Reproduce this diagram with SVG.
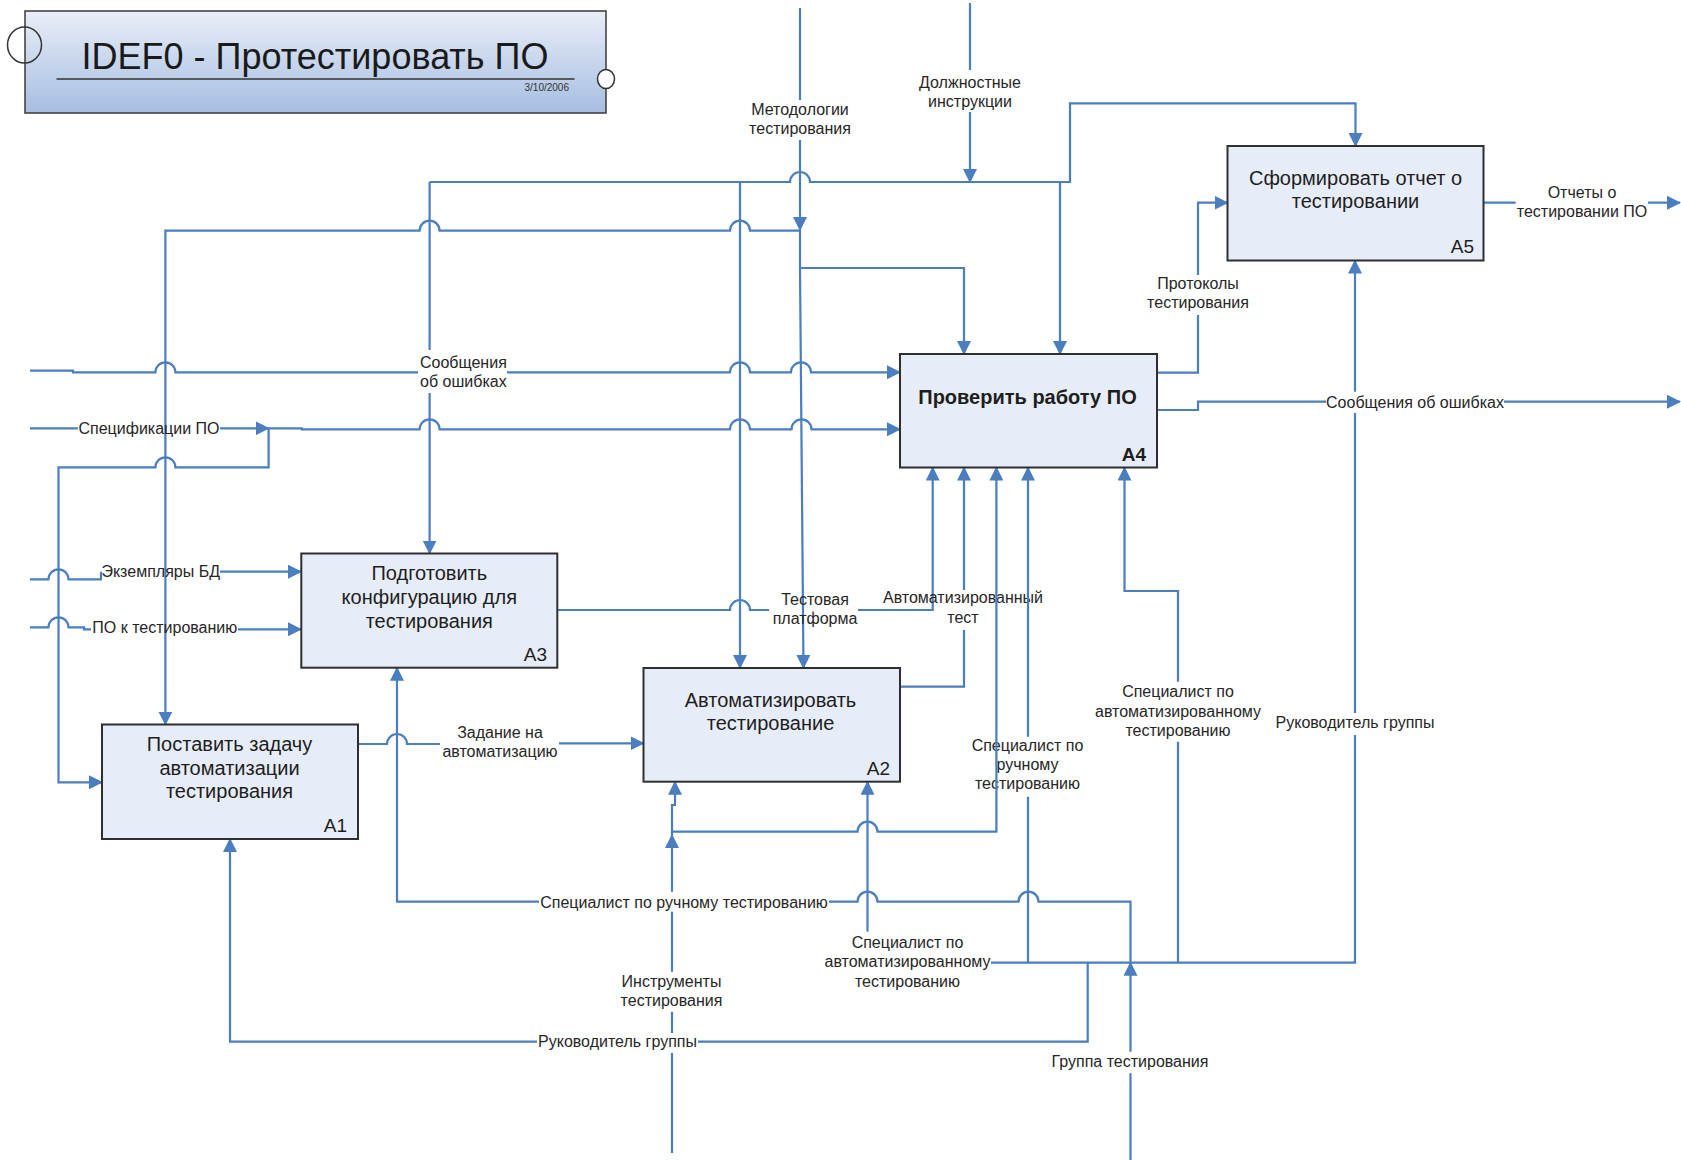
<svg xmlns="http://www.w3.org/2000/svg" width="1681" height="1160" viewBox="0 0 1681 1160">
<defs>
  <linearGradient id="titleFill" x1="0" y1="0" x2="0" y2="1">
    <stop offset="0" stop-color="#e9eef7"/>
    <stop offset="1" stop-color="#a6bee2"/>
  </linearGradient>
  <marker id="arrow" viewBox="0 0 14 14" refX="13" refY="7" markerWidth="14" markerHeight="14" markerUnits="userSpaceOnUse" orient="auto">
    <path d="M0,0 L14,7 L0,14 z" fill="#4a7ebf"/>
  </marker>
</defs>
<style>
  .box{fill:#e7edf8;stroke:#2f2f2f;stroke-width:2}
  .btxt{font-family:"Liberation Sans",Arial,sans-serif;font-size:20px;fill:#1e1e1e;text-anchor:middle}
  .bold{font-weight:bold}
  .num{font-family:"Liberation Sans",Arial,sans-serif;font-size:19px;fill:#1e1e1e;text-anchor:end}
  .wire{fill:none;stroke:#4a7ebf;stroke-width:2.2}
  .arr{marker-end:url(#arrow)}
  .lbl{font-family:"Liberation Sans",Arial,sans-serif;font-size:16px;fill:#262626;text-anchor:middle}
</style>
<rect width="1681" height="1160" fill="#ffffff"/>

<!-- title block -->
<g id="title">
  <rect x="25" y="11" width="581" height="102" fill="url(#titleFill)" stroke="#3a3a3a" stroke-width="1.5"/>
  <text x="315" y="69" font-family="Liberation Sans, Arial, sans-serif" font-size="36" fill="#1a1a1a" text-anchor="middle">IDEF0 - Протестировать ПО</text>
  <line x1="56.5" y1="79" x2="574.5" y2="79" stroke="#333" stroke-width="1.5"/>
  <text x="569" y="91" font-family="Liberation Sans, Arial, sans-serif" font-size="10" fill="#333" text-anchor="end">3/10/2006</text>
  <ellipse cx="24.5" cy="45" rx="17" ry="18" fill="none" stroke="#333" stroke-width="1.5"/>
  <ellipse cx="606" cy="79" rx="8.5" ry="9.5" fill="#fff" stroke="#333" stroke-width="1.5"/>
</g>

<!-- connectors -->
<g id="connectors">
  <g id="c-metodologii">
    <path class="wire arr" d="M800,8 V100 M800,140 V230"/>
    <path class="wire arr" d="M800,230 V268 H964 V354"/>
    <path class="wire arr" d="M800,268 L803.5,668"/>
    <path class="wire arr" d="M800,230.7 H750 A10,10 0 0 0 730,230.7 H439.6 A10,10 0 0 0 419.6,230.7 H165.4 V724.5"/>
    <text class="lbl" x="800" y="115">Методологии</text>
    <text class="lbl" x="800" y="134">тестирования</text>
  </g>
  <g id="c-instrukcii">
    <path class="wire arr" d="M970,3 V70 M970,112 V182"/>
    <path class="wire arr" d="M429.6,182 H790 A10,10 0 0 1 810,182 H1070 V103.3 H1355.5 V146"/>
    <path class="wire arr" d="M429.6,182 V350 M429.6,393 V553.5"/>
    <path class="wire arr" d="M740,182 V668"/>
    <path class="wire arr" d="M1060,182 V354"/>
    <text class="lbl" x="970" y="88">Должностные</text>
    <text class="lbl" x="970" y="106.5">инструкции</text>
  </g>
  <g id="c-soobshcheniya-in">
    <path class="wire arr" d="M30,370.7 H73 V372.3 H155.4 A10,10 0 0 1 175.4,372.3 H418 M507,372.3 H730 A10,10 0 0 1 750,372.3 H791 A10,10 0 0 1 811,372.3 H900"/>
    <text class="lbl" x="463.4" y="367.5">Сообщения</text>
    <text class="lbl" x="463.4" y="386.5">об ошибках</text>
  </g>
  <g id="c-specifikacii">
    <path class="wire arr" d="M30,428.3 H78 M220,428.3 H268.6"/>
    <path class="wire arr" d="M268.6,428.3 H301.8 V429.3 H419.6 A10,10 0 0 1 439.6,429.3 H730 A10,10 0 0 1 750,429.3 H791.5 A10,10 0 0 1 811.5,429.3 H900"/>
    <path class="wire arr" d="M268.6,428.3 V467.3 H175.4 A10,10 0 0 0 155.4,467.3 H58.5 V782.3 H102"/>
    <text class="lbl" x="149" y="433.5">Спецификации ПО</text>
  </g>
  <g id="c-ekzemplyary">
    <path class="wire arr" d="M30,579.3 H48.5 A10,10 0 0 1 68.5,579.3 H101 V571.7 M220,571.7 H301"/>
    <text class="lbl" x="160.7" y="576.5">Экземпляры БД</text>
  </g>
  <g id="c-po">
    <path class="wire arr" d="M30,627.3 H48.5 A10,10 0 0 1 68.5,627.3 H84 V629.3 H91 M238,629.3 H301"/>
    <text class="lbl" x="164.8" y="633">ПО к тестированию</text>
  </g>
  <g id="c-platforma">
    <path class="wire arr" d="M557.3,610 H730 A10,10 0 0 1 750,610 H769 M858,610 H932.7 V467.5"/>
    <text class="lbl" x="815" y="605">Тестовая</text>
    <text class="lbl" x="815" y="624">платформа</text>
  </g>
  <g id="c-avtotest">
    <path class="wire arr" d="M900,686.7 H964 V630 M964,590 V467.5"/>
    <text class="lbl" x="963" y="603.3">Автоматизированный</text>
    <text class="lbl" x="963" y="623.3">тест</text>
  </g>
  <g id="c-zadanie">
    <path class="wire arr" d="M358,744 H387 A10,10 0 0 1 407,744 H440 M559,743.3 H643.5"/>
    <text class="lbl" x="500" y="738">Задание на</text>
    <text class="lbl" x="500" y="757">автоматизацию</text>
  </g>
  <g id="c-protokoly">
    <path class="wire arr" d="M1157,372.7 H1198 V315 M1198,275 V202.7 H1227.5"/>
    <text class="lbl" x="1198" y="289.3">Протоколы</text>
    <text class="lbl" x="1198" y="308">тестирования</text>
  </g>
  <g id="c-soobshcheniya-out">
    <path class="wire arr" d="M1157,410 H1198 V401.7 H1326 M1504,401.7 H1680"/>
    <text class="lbl" x="1415" y="407.5">Сообщения об ошибках</text>
  </g>
  <g id="c-otchety">
    <path class="wire arr" d="M1483.5,202.7 H1515.7 M1648,202.7 H1680"/>
    <text class="lbl" x="1582" y="198.3">Отчеты о</text>
    <text class="lbl" x="1582" y="217.3">тестировании ПО</text>
  </g>
  <g id="c-gruppa">
    <path class="wire arr" d="M1130.5,1160 V1073.3 M1130.5,1051.7 V962.7"/>
    <path class="wire arr" d="M991,962.7 H1355 V735 M1355,713 V413 M1355,391.7 V260.5"/>
    <path class="wire arr" d="M867.5,931.7 V781.7"/>
    <path class="wire arr" d="M1028,962.7 V796.7 M1028,736.7 V467.5"/>
    <path class="wire arr" d="M1178,962.7 V741.7 M1178,681.7 V591 H1124.5 V467.5"/>
    <path class="wire arr" d="M1130.5,962.7 V901.7 H1038.5 A10,10 0 0 0 1018.5,901.7 H877.5 A10,10 0 0 0 857.5,901.7 H829 M539,901.7 H397 V667.7"/>
    <path class="wire arr" d="M1087.7,962.7 V1041.7 H698 M537,1041.7 H230 V839"/>
    <text class="lbl" x="1130" y="1067">Группа тестирования</text>
    <text class="lbl" x="907.5" y="947.5">Специалист по</text>
    <text class="lbl" x="907.5" y="967">автоматизированному</text>
    <text class="lbl" x="907.5" y="986.5">тестированию</text>
    <text class="lbl" x="1027.5" y="751">Специалист по</text>
    <text class="lbl" x="1027.5" y="770">ручному</text>
    <text class="lbl" x="1027.5" y="789">тестированию</text>
    <text class="lbl" x="1178" y="697">Специалист по</text>
    <text class="lbl" x="1178" y="716.5">автоматизированному</text>
    <text class="lbl" x="1178" y="736">тестированию</text>
    <text class="lbl" x="1355" y="727.5">Руководитель группы</text>
    <text class="lbl" x="684" y="907.5">Специалист по ручному тестированию</text>
    <text class="lbl" x="617.5" y="1047">Руководитель группы</text>
  </g>
  <g id="c-instrumenty">
    <path class="wire arr" d="M672,1153 V1053 M672,1033 V1011.7 M672,971.7 V911.7 M672,891.7 V835"/>
    <path class="wire arr" d="M672,835 V805 H675 V781.7"/>
    <path class="wire arr" d="M672,831.7 H857.5 A10,10 0 0 1 877.5,831.7 H996.4 V467.5"/>
    <text class="lbl" x="671.5" y="987">Инструменты</text>
    <text class="lbl" x="671.5" y="1006">тестирования</text>
  </g>
</g>

<!-- activity boxes -->
<g id="A1">
  <rect class="box" x="102" y="724.5" width="256" height="114.5"/>
  <text class="btxt" x="229.5" y="750.7">Поставить задачу</text>
  <text class="btxt" x="229.5" y="775">автоматизации</text>
  <text class="btxt" x="229.5" y="798.3">тестирования</text>
  <text class="num" x="347" y="832.3">A1</text>
</g>
<g id="A2">
  <rect class="box" x="643.5" y="668" width="256.5" height="113.7"/>
  <text class="btxt" x="770.5" y="706.7">Автоматизировать</text>
  <text class="btxt" x="770.5" y="730">тестирование</text>
  <text class="num" x="890" y="775">A2</text>
</g>
<g id="A3">
  <rect class="box" x="301.3" y="553.5" width="256" height="114.2"/>
  <text class="btxt" x="429.3" y="580">Подготовить</text>
  <text class="btxt" x="429.3" y="603.5">конфигурацию для</text>
  <text class="btxt" x="429.3" y="627.5">тестирования</text>
  <text class="num" x="547" y="660.7">A3</text>
</g>
<g id="A4">
  <rect class="box" x="900" y="354" width="257" height="113.5"/>
  <text class="btxt bold" x="1027.5" y="404">Проверить работу ПО</text>
  <text class="num bold" x="1146" y="460.7">A4</text>
</g>
<g id="A5">
  <rect class="box" x="1227.5" y="146" width="256" height="114.5"/>
  <text class="btxt" x="1355.5" y="185">Сформировать отчет о</text>
  <text class="btxt" x="1355.5" y="208">тестировании</text>
  <text class="num" x="1474" y="253">A5</text>
</g>
</svg>
